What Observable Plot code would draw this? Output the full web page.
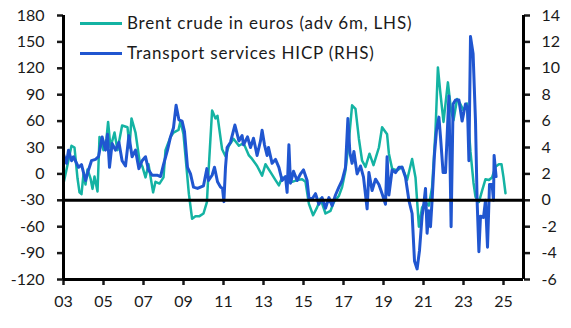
<!DOCTYPE html>
<html><head><meta charset="utf-8">
<script src="https://cdn.jsdelivr.net/npm/d3@7"></script>
<script src="https://cdn.jsdelivr.net/npm/@observablehq/plot@0.6"></script>
<style>
body{margin:0;background:#fff;}
#wrap{position:relative;width:571px;height:328px;font-family:Lato, sans-serif;}
.leg{position:absolute;left:80px;display:flex;align-items:center;font-size:17px;letter-spacing:0.8px;color:#1a1a1a;white-space:nowrap;line-height:20px;}
.leg .sw{width:42px;height:3px;margin-right:5px;}
</style></head>
<body><div id="wrap"></div>
<script>
const brentYears = [2003.0,2003.2,2003.4,2003.55,2003.7,2003.8,2003.9,2004.0,2004.1,2004.2,2004.35,2004.45,2004.55,2004.7,2004.8,2005.0,2005.15,2005.23,2005.35,2005.55,2005.7,2005.93,2006.2,2006.3,2006.4,2006.6,2006.8,2006.95,2007.1,2007.25,2007.48,2007.6,2007.8,2008.0,2008.1,2008.35,2008.5,2008.75,2008.85,2009.0,2009.1,2009.27,2009.43,2009.6,2009.8,2010.0,2010.17,2010.25,2010.43,2010.6,2010.7,2010.93,2011.1,2011.27,2011.5,2011.77,2012.0,2012.27,2012.43,2012.68,2012.93,2013.1,2013.35,2013.6,2013.77,2013.93,2014.18,2014.43,2014.68,2014.93,2015.1,2015.27,2015.48,2015.68,2015.85,2016.1,2016.35,2016.52,2016.77,2016.93,2017.1,2017.27,2017.43,2017.6,2017.77,2017.93,2018.1,2018.3,2018.5,2018.77,2018.93,2019.18,2019.27,2019.43,2019.68,2019.93,2020.18,2020.43,2020.6,2020.77,2020.93,2021.1,2021.27,2021.43,2021.6,2021.72,2021.83,2022.0,2022.22,2022.38,2022.5,2022.68,2022.83,2023.0,2023.17,2023.35,2023.5,2023.6,2023.77,2023.93,2024.1,2024.27,2024.43,2024.6,2024.77,2024.9,2025.0,2025.1];
const brentValues = [-11,10,32,30,-5,-21,-23,0,-12,5,-5,-17,-3,-20,42,27,40,59,30,47,27,55,53,30,63,47,15,8,-4,11,-21,-9,-11,-4,27,42,47,50,60,45,20,-23,-51,-48,-48,-45,-32,2,72,63,66,28,20,32,40,32,35,21,17,9,-2,11,2,-7,-13,-4,-6,-9,-7,-6,-9,-34,-47,-38,-28,-45,-42,-32,-25,-15,4,38,78,74,40,15,8,23,10,30,53,45,23,6,4,8,-7,17,-4,-60,-38,-32,-36,-15,49,121,95,59,104,72,61,85,80,72,80,25,-10,-26,-32,-19,-6,-7,-4,8,11,11,-4,-22];
const hicpYears = [2003.0,2003.15,2003.25,2003.4,2003.5,2003.75,2003.9,2004.1,2004.25,2004.4,2004.6,2004.75,2004.93,2005.1,2005.2,2005.3,2005.43,2005.6,2005.77,2005.93,2006.1,2006.27,2006.43,2006.6,2006.77,2006.93,2007.1,2007.25,2007.43,2007.68,2007.85,2008.0,2008.2,2008.35,2008.5,2008.63,2008.77,2008.93,2009.05,2009.2,2009.35,2009.5,2009.7,2009.85,2010.0,2010.17,2010.25,2010.43,2010.55,2010.7,2010.85,2010.95,2011.02,2011.1,2011.18,2011.35,2011.57,2011.77,2011.93,2012.0,2012.2,2012.35,2012.5,2012.68,2012.85,2012.93,2013.05,2013.18,2013.25,2013.43,2013.6,2013.77,2013.93,2014.1,2014.18,2014.27,2014.35,2014.5,2014.68,2014.85,2015.0,2015.18,2015.27,2015.43,2015.6,2015.77,2015.93,2016.1,2016.27,2016.43,2016.6,2016.77,2016.93,2017.1,2017.22,2017.32,2017.43,2017.52,2017.68,2017.85,2018.0,2018.18,2018.27,2018.43,2018.6,2018.77,2018.93,2019.1,2019.18,2019.27,2019.43,2019.6,2019.77,2019.93,2020.1,2020.27,2020.43,2020.55,2020.68,2020.8,2020.93,2021.0,2021.1,2021.18,2021.27,2021.35,2021.43,2021.55,2021.65,2021.77,2021.85,2021.98,2022.1,2022.27,2022.38,2022.48,2022.6,2022.77,2022.93,2023.1,2023.2,2023.27,2023.35,2023.48,2023.6,2023.68,2023.77,2023.85,2024.0,2024.1,2024.2,2024.3,2024.43,2024.5,2024.53,2024.63];
const hicpValues = [3.5,2.8,3.8,3.0,3.3,2.5,2.7,1.5,2.3,3.0,3.1,3.3,4.8,3.8,5.0,2.5,4.3,3.8,4.4,3.0,2.6,4.9,3.3,3.8,2.4,3.0,3.3,2.3,1.9,1.9,1.8,2.7,3.8,4.8,5.5,7.2,6.1,6.0,5.2,2.5,2.0,1.0,0.9,1.0,1.1,2.4,1.5,1.9,2.5,1.4,1.0,0.9,-0.1,2.5,4.0,4.4,5.7,4.5,4.9,4.2,4.8,4.0,4.7,3.4,4.5,5.3,4.2,3.4,4.0,2.8,3.1,2.5,1.5,1.8,0.6,4.2,1.3,2.2,1.5,2.0,2.3,1.5,0.2,0.1,0.5,-0.3,0.2,-0.6,0.2,-0.4,0.4,1.0,1.5,2.5,6.2,3.6,2.8,3.7,2.0,2.6,1.75,-0.65,2.1,0.74,1.6,1.2,0.5,-0.3,3.3,0.4,2.3,2.1,2.5,2.5,1.75,0,-1.0,-4.6,-5.2,-3.8,-1.2,-0.5,0.9,-2.5,-0.8,-2.0,0,3.5,5.3,6.3,4.8,2.1,2.1,7.9,-2.0,7.3,7.6,7.6,6.0,7.3,7.0,3.0,12.4,11.1,6.0,0,-3.9,-1.2,-1.3,0,-3.55,1.2,1.2,0,3.4,1.8];
const leftTicks = [-120,-90,-60,-30,0,30,60,90,120,150,180];
const rightTicks = [-6,-4,-2,0,2,4,6,8,10,12,14];
const xTicks = [2003,2005,2007,2009,2011,2013,2015,2017,2019,2021,2023,2025];
const legendLabels = ["Brent crude in euros (adv 6m, LHS)", "Transport services HICP (RHS)"];
const teal = "#14b3a3", blue = "#2056d0";
const toLeft = r => 15 * r - 30;
const X0 = 2003, X1 = 2026, Y0 = -120, Y1 = 180;
const brent = brentYears.map((x, i) => ({x, y: brentValues[i]}));
const hicp = hicpYears.map((x, i) => ({x, y: toLeft(hicpValues[i])}));
const chart = Plot.plot({
  width: 571, height: 328, marginLeft: 63, marginRight: 48, marginTop: 15, marginBottom: 49,
  style: {fontFamily: "Lato, sans-serif", fontSize: "16px", color: "#1a1a1a", background: "white"},
  x: {domain: [X0, X1]},
  y: {domain: [Y0, Y1]},
  marks: [
    Plot.axisY(leftTicks, {anchor: "left", tickSize: 6, tickPadding: 13, tickFormat: d => String(d), strokeWidth: 2.5, label: null}),
    Plot.axisY(rightTicks.map(toLeft), {anchor: "right", tickSize: 6, tickPadding: 12, tickFormat: d => String(Math.round((d + 30) / 15)), strokeWidth: 2.5, label: null}),
    Plot.axisX(xTicks, {anchor: "bottom", tickSize: 6, tickPadding: 10, tickFormat: d => String(d).slice(2), strokeWidth: 2.5, label: null}),
    Plot.lineY(brent, {x: "x", y: "y", stroke: teal, strokeWidth: 2.5}),
    Plot.lineY(hicp, {x: "x", y: "y", stroke: blue, strokeWidth: 3}),
    Plot.ruleY([toLeft(0)], {stroke: "black", strokeWidth: 3}),
    Plot.ruleX([X0, X1], {stroke: "black", strokeWidth: 3}),
    Plot.ruleY([Y0], {stroke: "black", strokeWidth: 3})
  ]
});
const wrap = document.getElementById("wrap");
wrap.appendChild(chart);
[[legendLabels[0], teal, 13], [legendLabels[1], blue, 43]].forEach(([t, c, top]) => {
  const d = document.createElement("div");
  d.className = "leg";
  d.style.top = top + "px";
  d.innerHTML = `<span class="sw" style="background:${c}"></span><span>${t}</span>`;
  wrap.appendChild(d);
});
</script>
</body></html>
